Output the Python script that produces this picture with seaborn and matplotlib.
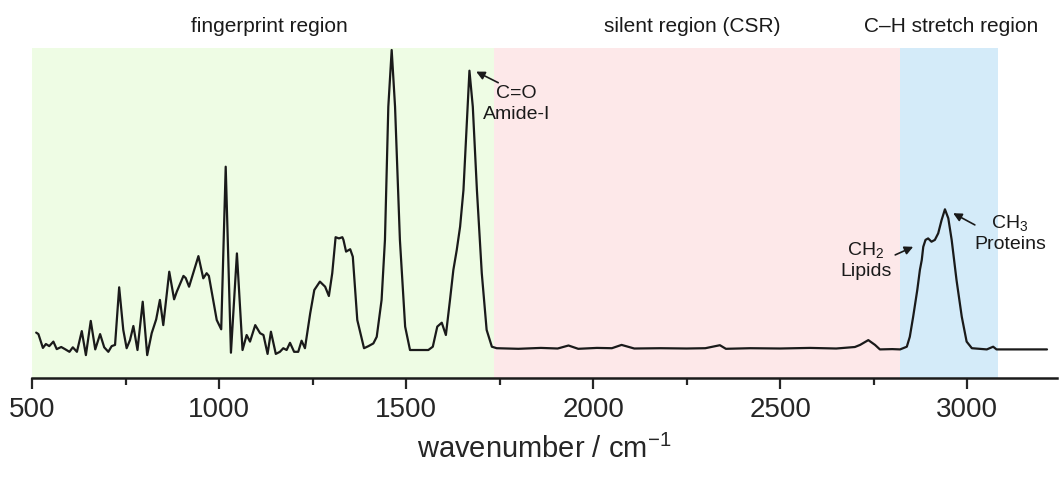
import numpy as np
import pandas as pd
import matplotlib
matplotlib.use("Agg")
import matplotlib.pyplot as plt
import seaborn as sns

# spectrum (wavenumber in cm-1, intensity in a.u., 1450 band = 1)
wavenumber = [
    510, 516, 528, 536, 545, 556, 565, 577, 587, 599, 608, 619, 632, 643, 656, 668,
    681, 692, 703, 712, 721, 732, 743, 752, 761, 770, 781, 795, 807, 819, 831, 841,
    850, 866, 879, 886, 904, 910, 919, 944, 957, 966, 972, 993, 1005, 1017, 1031,
    1047, 1062, 1073, 1082, 1096, 1109, 1118, 1129, 1138, 1151, 1162, 1171, 1180,
    1189, 1200, 1211, 1220, 1229, 1243, 1254, 1269, 1283, 1293, 1302, 1311, 1320,
    1329, 1332, 1339, 1350, 1357, 1369, 1387, 1399, 1412, 1421, 1434, 1443, 1452,
    1461, 1470, 1483, 1497, 1510, 1532, 1559, 1571, 1583, 1595, 1606, 1617, 1626,
    1635, 1644, 1653, 1662, 1669, 1678, 1689, 1702, 1715, 1729, 1742,
    1800, 1860, 1905, 1934, 1960, 2010, 2050, 2076, 2110, 2180, 2250, 2300, 2339,
    2355, 2420, 2500, 2580, 2650, 2700, 2714, 2736, 2754, 2767, 2800, 2821,
    2839, 2847, 2856, 2867, 2874, 2879, 2883, 2889, 2896, 2905, 2914, 2923, 2932,
    2941, 2950, 2959, 2972, 2986, 2999, 3013, 3053, 3070, 3079, 3120, 3214,
]
intensity = [
    0.058, 0.053, 0.007, 0.020, 0.013, 0.028, 0.003, 0.010, 0.003, -0.006, 0.009, -0.006,
    0.063, -0.017, 0.097, 0.002, 0.053, 0.009, -0.006, 0.013, 0.017, 0.209, 0.067, 0.006,
    0.033, 0.080, 0.000, 0.161, -0.017, 0.056, 0.102, 0.167, 0.083, 0.261, 0.169, 0.194,
    0.247, 0.240, 0.211, 0.313, 0.239, 0.256, 0.247, 0.100, 0.069, 0.611, -0.009, 0.322,
    0.000, 0.050, 0.028, 0.083, 0.056, 0.050, -0.013, 0.061, -0.013, -0.006, 0.006, 0.000,
    0.024, -0.006, -0.006, 0.031, 0.006, 0.122, 0.200, 0.228, 0.211, 0.180, 0.256, 0.376,
    0.372, 0.376, 0.367, 0.328, 0.336, 0.311, 0.100, 0.006, 0.013, 0.022, 0.044, 0.167,
    0.367, 0.811, 1.000, 0.811, 0.367, 0.078, 0.000, 0.000, 0.000, 0.011, 0.078, 0.091,
    0.050, 0.167, 0.267, 0.333, 0.411, 0.533, 0.756, 0.931, 0.811, 0.533, 0.256, 0.067,
    0.011, 0.006,
    0.004, 0.007, 0.005, 0.015, 0.004, 0.007, 0.006, 0.017, 0.005, 0.006, 0.005, 0.006,
    0.016, 0.004, 0.006, 0.005, 0.007, 0.005, 0.010, 0.017, 0.033, 0.017, 0.002, 0.003,
    0.002,
    0.011, 0.044, 0.111, 0.200, 0.267, 0.300, 0.344, 0.367, 0.372, 0.361, 0.367, 0.389,
    0.433, 0.469, 0.439, 0.367, 0.233, 0.111, 0.028, 0.006, 0.002, 0.011, 0.002, 0.002,
    0.002,
]

# shaded spectral regions
region_names = ['fingerprint region', 'silent region (CSR)', 'C\u2013H stretch region']
region_start = [500, 1736, 2822]
region_end = [1736, 2822, 3083]
region_label_x = [1135, 2264, 2957]
region_colors = ['#eefce4', '#fde8e9', '#d4ebf9']

# peak annotations: label, arrow head, arrow tail, text position
peak_labels = ['C=O\nAmide-I', 'CH$_\\mathregular{2}$\nLipids', 'CH$_\\mathregular{3}$\nProteins']
peak_xy = [(1687, 0.928), (2856, 0.344), (2963, 0.456)]
tail_xy = [(1746, 0.891), (2808, 0.317), (3021, 0.417)]
text_xy = [(1795, 0.82), (2730, 0.30), (3115, 0.39)]

sns.set_style('ticks')
plt.rcParams['font.family'] = ['Liberation Sans', 'DejaVu Sans']
plt.rcParams['mathtext.fontset'] = 'custom'
plt.rcParams['mathtext.rm'] = 'Liberation Sans'
plt.rcParams['mathtext.it'] = 'Liberation Sans:italic'

df = pd.DataFrame({'wavenumber': wavenumber, 'intensity': intensity})

fig = plt.figure(figsize=(10.6, 4.78), dpi=100)
ax = fig.add_axes([0.0306, 0.2092, 0.9663, 0.6904])

for start, end, color in zip(region_start, region_end, region_colors):
    ax.axvspan(start, end, color=color, lw=0, zorder=0)

sns.lineplot(data=df, x='wavenumber', y='intensity', sort=False,
             color='#1a1a1a', linewidth=1.6, ax=ax, zorder=3)

trans = matplotlib.transforms.blended_transform_factory(ax.transData, ax.transAxes)
for name, xpos in zip(region_names, region_label_x):
    ax.text(xpos, 1.065, name, transform=trans, ha='center', va='center',
            fontsize=15, color='#1a1a1a')

for label, head, tail, txt in zip(peak_labels, peak_xy, tail_xy, text_xy):
    ax.annotate('', xy=head, xytext=tail,
                arrowprops=dict(arrowstyle='-|>,head_length=0.5,head_width=0.25',
                                color='#1a1a1a', lw=1.2, shrinkA=0, shrinkB=0))
    ax.text(txt[0], txt[1], label, ha='center', va='center', fontsize=14,
            linespacing=1.3, color='#1a1a1a')

ax.set_xlim(500, 3240)
ax.set_ylim(-0.0933, 1.0067)
ax.set_xticks([500, 1000, 1500, 2000, 2500, 3000])
ax.set_xticks(np.arange(750, 3240, 500), minor=True)
ax.set_yticks([])
ax.set_ylabel(None)
ax.set_xlabel('wavenumber / cm$^{\\mathregular{-1}}$', fontsize=21, labelpad=8)
ax.tick_params(axis='x', which='major', length=8, width=1.6, labelsize=20, pad=6)
ax.tick_params(axis='x', which='minor', length=5, width=1.6)
for side in ['left', 'right', 'top']:
    ax.spines[side].set_visible(False)
ax.spines['bottom'].set_linewidth(1.8)
ax.spines['bottom'].set_color('#1a1a1a')

fig.savefig('out.png', dpi=100)
